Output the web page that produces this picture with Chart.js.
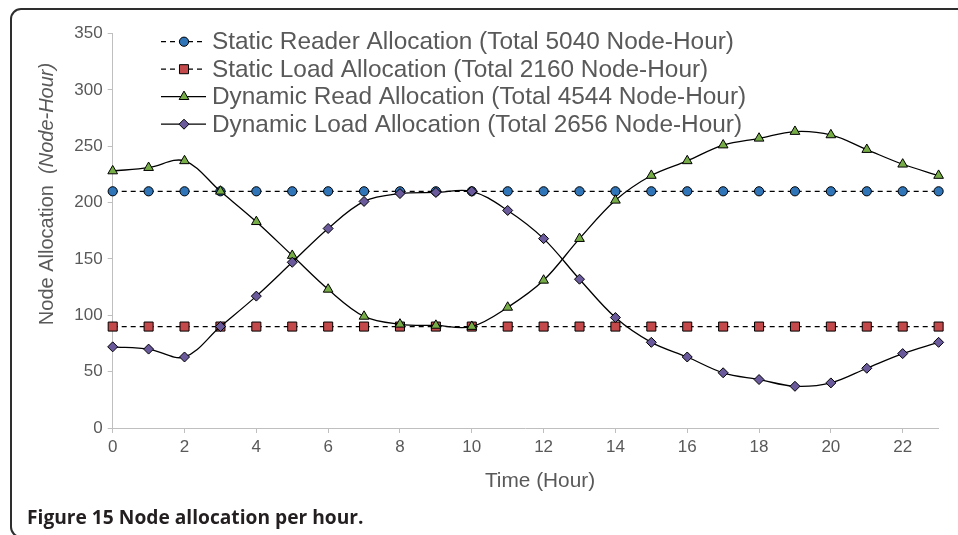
<!DOCTYPE html>
<html>
<head>
<meta charset="utf-8">
<script src="https://cdn.jsdelivr.net/npm/chart.js@4.4.1/dist/chart.umd.min.js"></script>
<style>
  html, body { margin: 0; padding: 0; background: #ffffff; }
  #wrap { position: relative; width: 958px; height: 535px; overflow: hidden; }
  #frame {
    position: absolute; left: 10px; top: 8px; width: 1000px; height: 530px;
    box-sizing: border-box; border: 2px solid #2e2e2e; border-radius: 11px;
  }
  #chart { position: absolute; left: 0; top: 0; }
  #caption {
    position: absolute; left: 27px; top: 507px; line-height: 20px;
    font-family: "Open Sans", "Noto Sans", sans-serif; font-weight: 700;
    font-size: 19.2px; color: #231f20; white-space: nowrap;
  }
</style>
</head>
<body>
<div id="wrap">
  <div id="frame"></div>
  <canvas id="chart" width="958" height="535"></canvas>
  <div id="caption">Figure 15 Node allocation per hour.</div>
</div>
<script>
// Hours of the day
const hours = [0, 1, 2, 3, 4, 5, 6, 7, 8, 9, 10, 11, 12, 13, 14, 15, 16, 17, 18, 19, 20, 21, 22, 23];

// Node allocation per hour for each policy
const staticReader = [210, 210, 210, 210, 210, 210, 210, 210, 210, 210, 210, 210,
                      210, 210, 210, 210, 210, 210, 210, 210, 210, 210, 210, 210];
const staticLoad   = [90, 90, 90, 90, 90, 90, 90, 90, 90, 90, 90, 90,
                      90, 90, 90, 90, 90, 90, 90, 90, 90, 90, 90, 90];
const dynamicRead  = [228, 231, 237, 210, 183, 153, 123, 99, 92, 91, 90, 107,
                      131, 168, 202, 224, 237, 251, 257, 263, 260, 247, 234, 224];
const dynamicLoad  = [72, 70, 63, 90, 117, 147, 177, 201, 208, 209, 210, 193,
                      168, 132, 98, 76, 63, 49, 43, 37, 40, 53, 66, 76];

const seriesLabels = [
  'Static Reader Allocation (Total 5040 Node-Hour)',
  'Static Load Allocation (Total 2160 Node-Hour)',
  'Dynamic Read Allocation (Total 4544 Node-Hour)',
  'Dynamic Load Allocation (Total 2656 Node-Hour)'
];

const yAxisTitle = 'Node Allocation';
const yAxisUnit = '(Node-Hour)';
const xAxisTitle = 'Time (Hour)';

const TEXT = '#595959';
const AXIS = '#bfbfbf';
const FONT = '"Liberation Sans", Arial, Helvetica, sans-serif';

function points(values) {
  return hours.map((h, i) => ({ x: h, y: values[i] }));
}

const datasets = [
  {
    label: seriesLabels[0], data: points(staticReader),
    borderColor: '#000', borderWidth: 1.3, borderDash: [5, 4], tension: 0,
    pointStyle: 'circle', pointRadius: 4.6, pointBackgroundColor: '#2f75b8',
    pointBorderColor: '#000', pointBorderWidth: 1, order: 4
  },
  {
    label: seriesLabels[1], data: points(staticLoad),
    borderColor: '#000', borderWidth: 1.3, borderDash: [5, 4], tension: 0,
    pointStyle: 'rect', pointRadius: 6.4, pointBackgroundColor: '#c3494a',
    pointBorderColor: '#000', pointBorderWidth: 1, order: 3
  },
  {
    label: seriesLabels[2], data: points(dynamicRead),
    borderColor: '#000', borderWidth: 1.3, tension: 0.35,
    pointStyle: 'triangle', pointRadius: 5.6, pointBackgroundColor: '#77ad46',
    pointBorderColor: '#000', pointBorderWidth: 1, order: 2
  },
  {
    label: seriesLabels[3], data: points(dynamicLoad),
    borderColor: '#000', borderWidth: 1.3, tension: 0.35,
    pointStyle: 'rectRot', pointRadius: 5, pointBackgroundColor: '#6a5a9c',
    pointBorderColor: '#000', pointBorderWidth: 1, order: 1
  }
];

// Legend, drawn inside the plot area with a line sample and marker per series
const innerLegend = {
  id: 'innerLegend',
  afterDraw(chart) {
    const ctx = chart.ctx;
    ctx.save();
    chart.data.datasets.forEach((ds, i) => {
      const y = 41.7 + i * 27.5;
      ctx.beginPath();
      ctx.setLineDash(ds.borderDash || []);
      ctx.lineWidth = ds.borderWidth;
      ctx.strokeStyle = ds.borderColor;
      ctx.moveTo(161, y);
      ctx.lineTo(206, y);
      ctx.stroke();
      ctx.setLineDash([]);
      ctx.fillStyle = ds.pointBackgroundColor;
      ctx.strokeStyle = ds.pointBorderColor;
      ctx.lineWidth = ds.pointBorderWidth;
      Chart.helpers.drawPoint(ctx, { pointStyle: ds.pointStyle, radius: ds.pointRadius, rotation: 0, borderWidth: 1 }, 184, y);
      ctx.fillStyle = TEXT;
      ctx.font = '24.4px ' + FONT;
      ctx.textAlign = 'left';
      ctx.textBaseline = 'middle';
      ctx.fillText(ds.label, 212, y + 1);
    });
    ctx.restore();
  }
};

// Axis titles; the unit part of the y title is set in italics
const axisTitles = {
  id: 'axisTitles',
  afterDraw(chart) {
    const ctx = chart.ctx;
    ctx.save();
    ctx.fillStyle = TEXT;
    ctx.textBaseline = 'middle';
    const normal = '20px ' + FONT;
    const italic = 'italic 20px ' + FONT;
    ctx.font = normal;
    const head = yAxisTitle + '  ';
    const w1 = ctx.measureText(head).width;
    ctx.font = italic;
    const w2 = ctx.measureText(yAxisUnit).width;
    const total = w1 + w2;
    ctx.translate(47, 194);
    ctx.rotate(-Math.PI / 2);
    ctx.textAlign = 'left';
    ctx.font = normal;
    ctx.fillText(head, -total / 2, 0);
    ctx.font = italic;
    ctx.fillText(yAxisUnit, -total / 2 + w1, 0);
    ctx.restore();

    ctx.save();
    ctx.fillStyle = TEXT;
    ctx.font = '20.8px ' + FONT;
    ctx.textAlign = 'center';
    ctx.textBaseline = 'middle';
    ctx.fillText(xAxisTitle, 540, 481);
    ctx.restore();
  }
};

new Chart(document.getElementById('chart'), {
  type: 'line',
  data: { datasets },
  options: {
    responsive: false,
    animation: false,
    events: [],
    layout: { padding: { left: 0, top: 33.5, right: 19.4, bottom: 0 } },
    datasets: { line: { clip: false } },
    plugins: { legend: { display: false }, tooltip: { enabled: false } },
    scales: {
      x: {
        type: 'linear', min: 0, max: 23,
        afterFit(scale) { scale.height = 107; },
        ticks: {
          stepSize: 2, includeBounds: false, padding: 4,
          color: TEXT, font: { family: FONT, size: 17 }
        },
        grid: { drawOnChartArea: false, tickLength: 5, color: AXIS },
        border: { color: AXIS, width: 1 }
      },
      y: {
        min: 0, max: 350,
        afterFit(scale) { scale.width = 112.7; },
        ticks: {
          stepSize: 50, padding: 5,
          color: TEXT, font: { family: FONT, size: 17 }
        },
        grid: { drawOnChartArea: false, tickLength: 5, color: AXIS },
        border: { color: AXIS, width: 1 }
      }
    }
  },
  plugins: [innerLegend, axisTitles]
});
</script>
</body>
</html>
